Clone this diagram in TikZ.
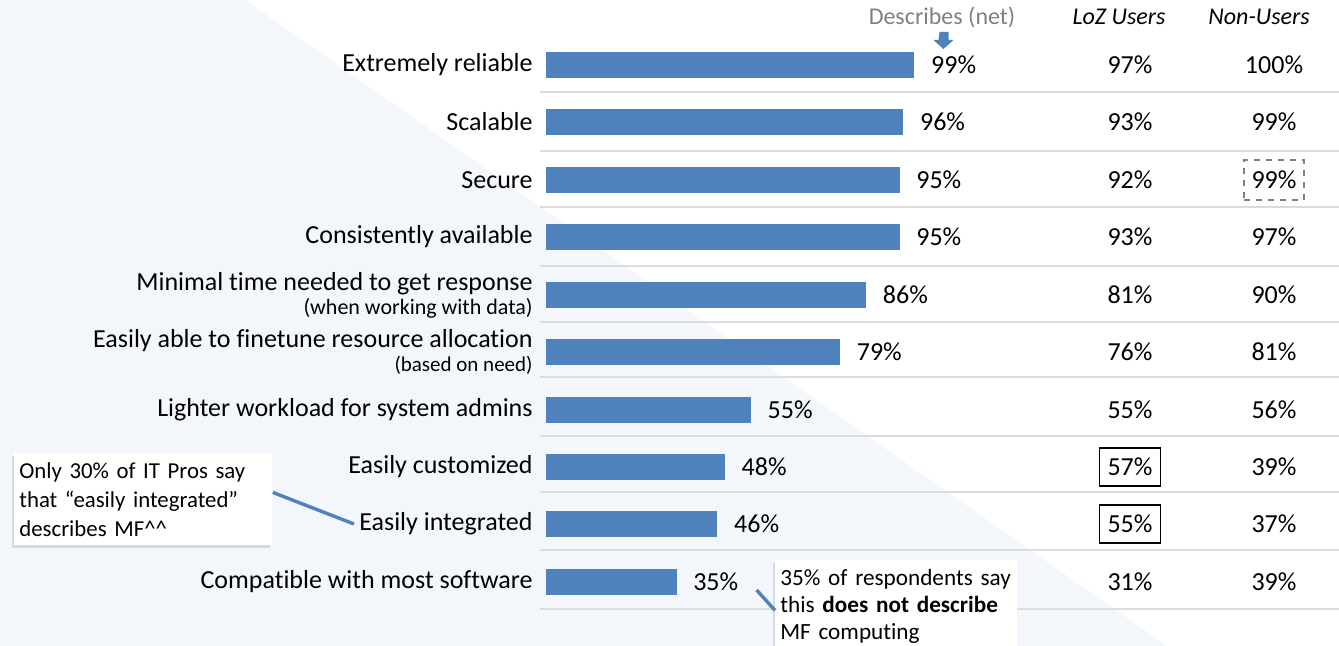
\documentclass[tikz,border=0pt]{standalone}
\usepackage{fontspec}
\setmainfont[Ligatures=NoCommon]{Carlito}
\usetikzlibrary{positioning,shadows}

\definecolor{barblue}{HTML}{4F81BD}
\definecolor{bgtint}{HTML}{F3F6FB}
\definecolor{rulegray}{HTML}{DCDCDC}
\definecolor{hdrgray}{HTML}{808080}

\begin{document}
\begin{tikzpicture}[x=0.5pt,
            y=-0.5pt,
            lbl/.style={font=\fontsize{13}{15}\selectfont, inner sep=0pt},
            hdr/.style={font=\fontsize{12}{14}\selectfont, inner sep=0pt},
            bar/.style={fill=barblue, inner sep=0pt, anchor=west,
                        minimum height=13pt, minimum width=#1*1.8587pt},
            hilite/.style={draw, line width=0.7pt,
                        minimum width=30.5pt, minimum height=19pt},
            dashbox/.style={draw=hdrgray, dashed, line width=0.6pt,
                        minimum width=30pt, minimum height=20pt},
            note/.style={fill=white, font=\fontsize{11.4}{14.5}\selectfont,
                        align=left, inner xsep=2.5pt, inner ysep=0pt,
                        drop shadow={shadow xshift=-1pt, shadow yshift=-1.2pt,
                                     fill=barblue!50!black, opacity=0.15}},
            pointer/.style={draw=barblue, line width=1.7pt},
            sep/.style={draw=rulegray, line width=0.8pt}]

        \useasboundingbox (0,0) rectangle (1339,646);
        \fill[white]  (0,0) rectangle (1339,646);
        \fill[bgtint] (0,0) -- (245,0) -- (1167,646) -- (0,646) -- cycle;

        % row rules
        \draw[sep] (540,92)  -- (1339,92)  (540,151) -- (1339,151)
                   (540,207) -- (1339,207) (540,266) -- (1339,266)
                   (540,322) -- (1339,322) (540,377) -- (1339,377)
                   (540,436) -- (1339,436) (540,492) -- (1339,492)
                   (540,550) -- (1339,550) (540,609) -- (1339,609);

        % headers
        \node[hdr, text=hdrgray]   (hd) at (942,17)  {Describes (net)};
        \node[hdr, font=\fontsize{12}{14}\selectfont\itshape] (hz) at (1119,17) {LoZ Users};
        \node[hdr, font=\fontsize{12}{14}\selectfont\itshape] (hn) at (1259,17) {Non-Users};
        \fill[barblue] (939.5,32) -- (948.5,32) -- (948.5,40) -- (953.5,40)
                       -- (943.5,49) -- (933.5,40) -- (938.5,40) -- cycle;

        % bars
        \node[bar=99] (b1)  at (546,65)  {};
        \node[bar=96] (b2)  at (546,122) {};
        \node[bar=95] (b3)  at (546,180) {};
        \node[bar=95] (b4)  at (546,237) {};
        \node[bar=86] (b5)  at (546,295) {};
        \node[bar=79] (b6)  at (546,352) {};
        \node[bar=55] (b7)  at (546,410) {};
        \node[bar=48] (b8)  at (546,467) {};
        \node[bar=46] (b9)  at (546,524) {};
        \node[bar=35] (b10) at (546,582) {};

        % row labels
        \node[lbl, left=6.5pt of b1]  (l1)  {Extremely reliable};
        \node[lbl, left=6.5pt of b2]  (l2)  {Scalable};
        \node[lbl, left=6.5pt of b3]  (l3)  {Secure};
        \node[lbl, left=6.5pt of b4]  (l4)  {Consistently available};
        \node[lbl, left=6.5pt of b5, align=right] (l5)
             {Minimal time needed to get response\\[-3pt]{\fontsize{11}{13}\selectfont (when working with data)}};
        \node[lbl, left=6.5pt of b6, align=right] (l6)
             {Easily able to finetune resource allocation\\[-3pt]{\fontsize{10.5}{12}\selectfont (based on need)}};
        \node[lbl, left=6.5pt of b7]  (l7)  {Lighter workload for system admins};
        \node[lbl, left=6.5pt of b8]  (l8)  {Easily customized};
        \node[lbl, left=6.5pt of b9]  (l9)  {Easily integrated};
        \node[lbl, left=6.5pt of b10] (l10) {Compatible with most software};

        % net values
        \node[lbl, right=8pt of b1]  (p1)  {99\%};
        \node[lbl, right=8pt of b2]  (p2)  {96\%};
        \node[lbl, right=8pt of b3]  (p3)  {95\%};
        \node[lbl, right=8pt of b4]  (p4)  {95\%};
        \node[lbl, right=8pt of b5]  (p5)  {86\%};
        \node[lbl, right=8pt of b6]  (p6)  {79\%};
        \node[lbl, right=8pt of b7]  (p7)  {55\%};
        \node[lbl, right=8pt of b8]  (p8)  {48\%};
        \node[lbl, right=8pt of b9]  (p9)  {46\%};
        \node[lbl, right=8pt of b10] (p10) {35\%};

        % LoZ users
        \node[lbl]         (z1)  at (1130,65)  {97\%};
        \node[lbl]         (z2)  at (1130,122) {93\%};
        \node[lbl]         (z3)  at (1130,180) {92\%};
        \node[lbl]         (z4)  at (1130,237) {93\%};
        \node[lbl]         (z5)  at (1130,295) {81\%};
        \node[lbl]         (z6)  at (1130,352) {76\%};
        \node[lbl]         (z7)  at (1130,410) {55\%};
        \node[lbl, hilite] (z8)  at (1130,467) {57\%};
        \node[lbl, hilite] (z9)  at (1130,524) {55\%};
        \node[lbl]         (z10) at (1130,582) {31\%};

        % non-users
        \node[lbl]          (n1)  at (1274,65)  {100\%};
        \node[lbl]          (n2)  at (1274,122) {99\%};
        \node[lbl, dashbox] (n3)  at (1274,180) {99\%};
        \node[lbl]          (n4)  at (1274,237) {97\%};
        \node[lbl]          (n5)  at (1274,295) {90\%};
        \node[lbl]          (n6)  at (1274,352) {81\%};
        \node[lbl]          (n7)  at (1274,410) {56\%};
        \node[lbl]          (n8)  at (1274,467) {39\%};
        \node[lbl]          (n9)  at (1274,524) {37\%};
        \node[lbl]          (n10) at (1274,582) {39\%};

        % callouts
        \node[note, anchor=north west, text width=124pt, minimum height=46pt] (c1) at (14,453)
             {Only 30\% of IT Pros say\\that “easily integrated”\\describes MF\textasciicircum\textasciicircum};
        \node[note, anchor=north west, text width=116pt, minimum height=46pt,
              font=\fontsize{11.6}{13.5}\selectfont] (c2) at (775,560)
             {35\% of respondents say\\this \textbf{does not describe}\\MF computing};

        \draw[pointer] ([yshift=3.5pt]c1.east) -- ([xshift=-2.5pt]l9.west);
        \draw[pointer] ([xshift=9pt,yshift=-4pt]p10.east) -- ([yshift=-2pt]c2.west);

    \end{tikzpicture}
\end{document}
